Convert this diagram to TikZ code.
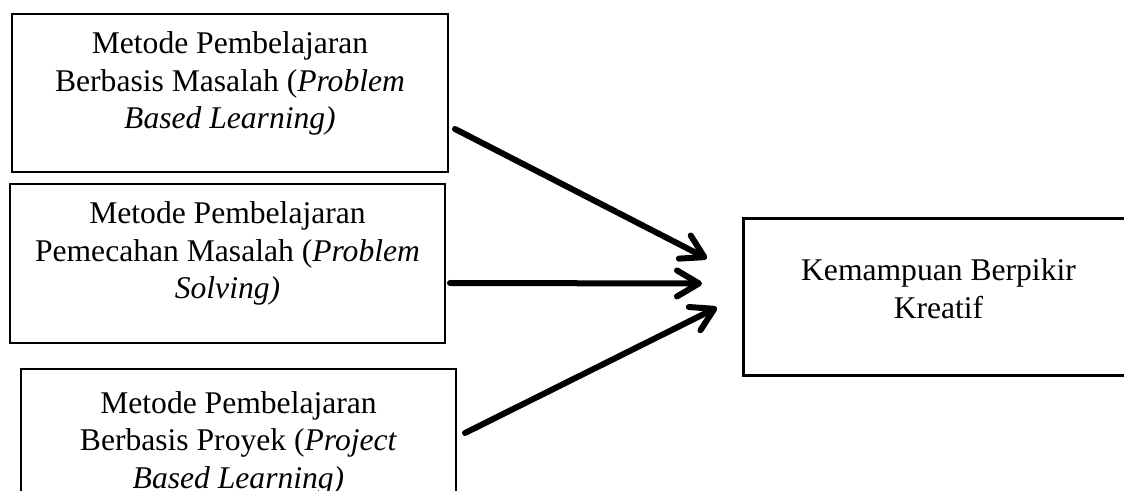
\documentclass[tikz,border=0pt]{standalone}
\usepackage{fontspec}
\setmainfont{Liberation Serif}
\usetikzlibrary{arrows.meta,positioning}

\begin{document}
\begin{tikzpicture}[x=0.5pt, y=-0.5pt,
  box/.style={draw, line width=1pt, anchor=north west, align=center, inner sep=0pt, font=\fontsize{15.8}{18.75}\selectfont},
  arr/.style={-{Straight Barb[length=11pt, width=13pt, round]}, line width=3pt, line cap=round},
]
\clip (0,0) rectangle (1124,491);
\node[box, minimum width=218pt, text height=57.5pt, text depth=21.5pt] (pbl) at (11,13) {Metode Pembelajaran\\Berbasis Masalah (\textit{Problem}\\\textit{Based Learning)}};
\node[box, minimum width=217.5pt, text height=57.5pt, text depth=22pt] (pms) at (9,183) {Metode Pembelajaran\\Pemecahan Masalah (\textit{Problem}\\\textit{Solving)}};
\node[box, minimum width=217.5pt, text height=59.5pt, text depth=26.5pt] (pjbl) at (20,368) {Metode Pembelajaran\\Berbasis Proyek (\textit{Project}\\\textit{Based Learning)}};
\node[box, line width=1.5pt, minimum width=195pt, text height=50pt, text depth=28.5pt] (kbk) at (742,217) {Kemampuan Berpikir\\Kreatif};

\draw[arr] ([shift={(6,36)}]pbl.east) -- ([shift={(-35,-38.5)}]kbk.west);
\draw[arr] ([shift={(4,19.5)}]pms.east) -- ([shift={(-40,-13.5)}]kbk.west);
\draw[arr] ([shift={(8,-22)}]pjbl.east) -- ([shift={(-25,10.5)}]kbk.west);
\end{tikzpicture}
\end{document}
